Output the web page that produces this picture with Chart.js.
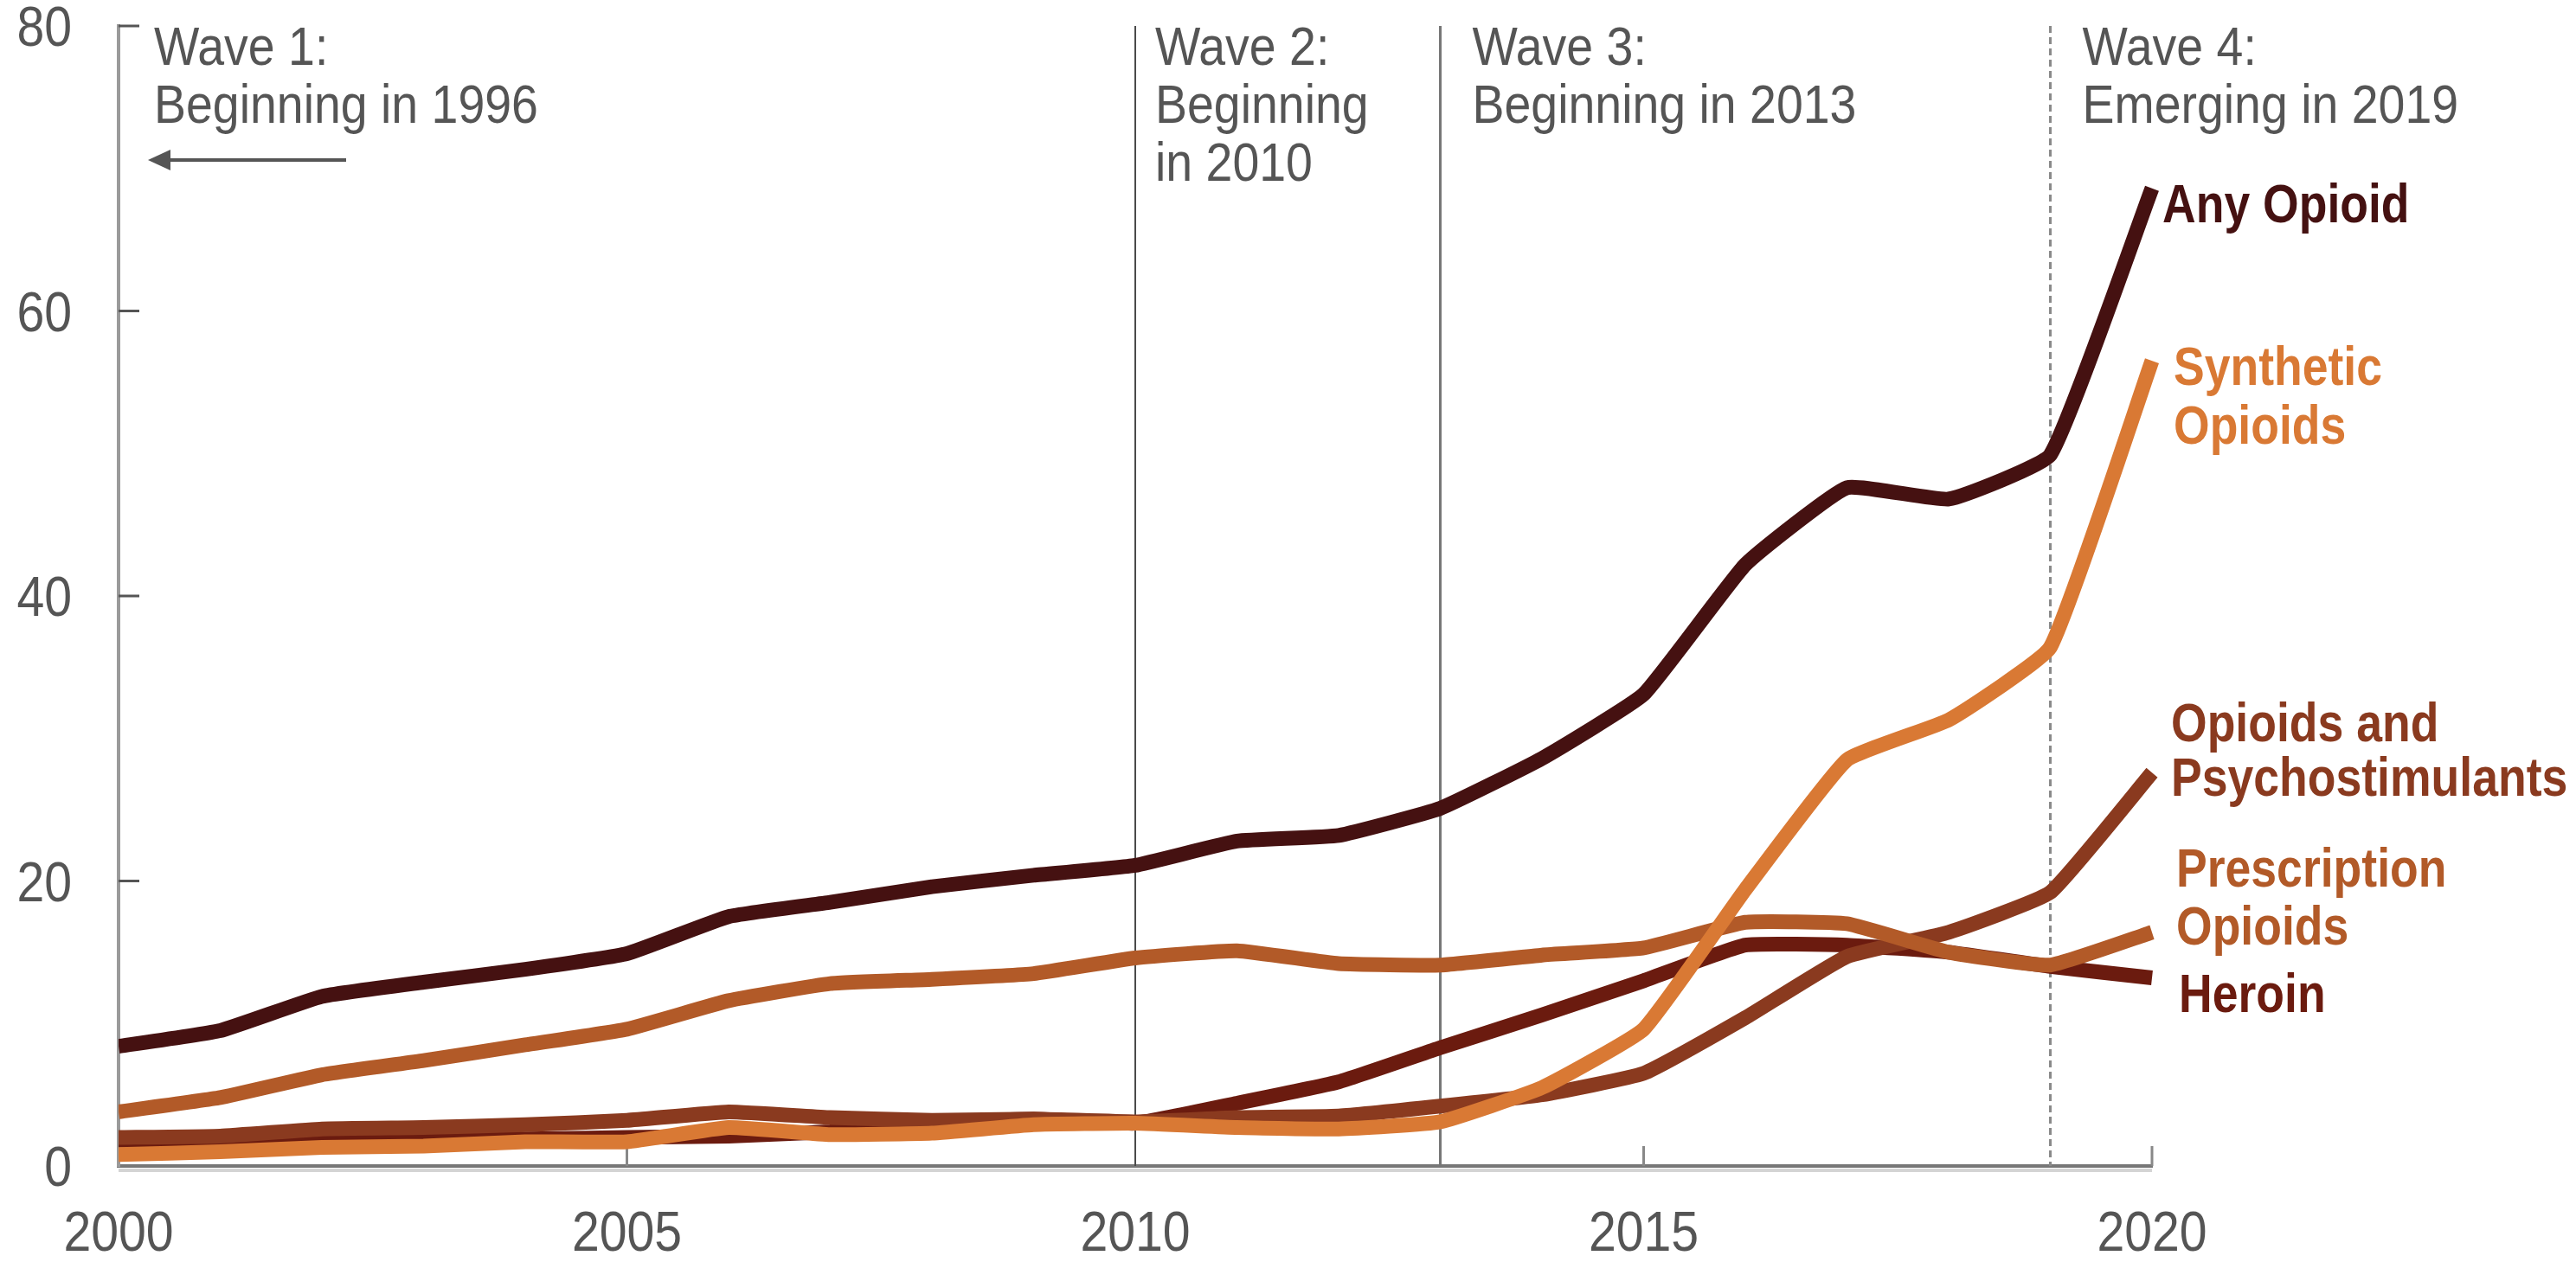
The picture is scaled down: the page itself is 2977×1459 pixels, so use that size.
<!DOCTYPE html>
<html>
<head>
<meta charset="utf-8">
<script src="https://cdn.jsdelivr.net/npm/chart.js@4.4.1/dist/chart.umd.min.js"></script>
<style>
  html, body { margin: 0; padding: 0; background: #fff; }
  #wrap { width: 2977px; height: 1459px; }
</style>
</head>
<body>
<div id="wrap"><canvas id="chart" width="2977" height="1459"></canvas></div>
<script>
// --------------------------
// data (thousands of deaths)
// --------------------------
const years = [2000, 2001, 2002, 2003, 2004, 2005, 2006, 2007, 2008, 2009, 2010,
               2011, 2012, 2013, 2014, 2015, 2016, 2017, 2018, 2019, 2020];
const anyOpioid     = [8.4, 9.5, 11.9, 12.9, 13.8, 14.9, 17.5, 18.5, 19.6, 20.4, 21.1,
                       22.8, 23.2, 25.1, 28.6, 33.1, 42.2, 47.6, 46.8, 49.9, 68.6];
const synthetic     = [0.8, 1.0, 1.3, 1.4, 1.7, 1.7, 2.7, 2.2, 2.3, 2.9, 3.0,
                       2.7, 2.6, 3.1, 5.5, 9.6, 19.4, 28.5, 31.3, 36.4, 56.5];
const prescription  = [3.8, 4.8, 6.4, 7.4, 8.5, 9.6, 11.6, 12.8, 13.1, 13.5, 14.6,
                       15.1, 14.2, 14.1, 14.8, 15.3, 17.1, 17.0, 15.0, 14.1, 16.4];
const psychostim    = [2.0, 2.1, 2.6, 2.7, 2.9, 3.2, 3.8, 3.4, 3.2, 3.3, 3.1,
                       3.4, 3.5, 4.2, 5.0, 6.5, 10.4, 14.7, 16.4, 19.2, 27.6];
const heroin        = [1.8, 1.8, 2.1, 2.1, 1.9, 2.0, 2.1, 2.4, 3.0, 3.3, 3.0,
                       4.4, 5.9, 8.3, 10.6, 13.0, 15.5, 15.5, 15.0, 14.0, 13.2];

const xTicks = [2000, 2005, 2010, 2015, 2020];
const yTicks = [0, 20, 40, 60, 80];

const waves = [
  { year: 2000, lines: ["Wave 1:", "Beginning in 1996"], arrow: true },
  { year: 2010, lines: ["Wave 2:", "Beginning", "in 2010"] },
  { year: 2013, lines: ["Wave 3:", "Beginning in 2013"] },
  { year: 2019, lines: ["Wave 4:", "Emerging in 2019"], dotted: true }
];

const seriesNames = [
  ["Any Opioid"],
  ["Synthetic", "Opioids"],
  ["Prescription", "Opioids"],
  ["Opioids and", "Psychostimulants"],
  ["Heroin"]
];

// --------------------------
// styles
// --------------------------
const COLORS = ["#451111", "#d97934", "#b25a28", "#8a3a1f", "#6b1b0f"];
const SANS = '"Liberation Sans", Arial, sans-serif';
const GREY = "#555555";
const SX_REG = 0.88;   // fake condensed
const SX_BOLD = 0.85;

// label placement (offset from plot right edge, baselines in px)
const labelPos = [
  { dx: 12, base: [257] },
  { dx: 25, base: [445, 513] },
  { dx: 28, base: [1025, 1092] },
  { dx: 22, base: [857, 920] },
  { dx: 31, base: [1170] }
];

function toPoints(vals) {
  return vals.map((v, i) => ({ x: years[i], y: v }));
}

function narrowText(ctx, text, x, y, sx, align) {
  ctx.save();
  ctx.translate(x, y);
  ctx.scale(sx, 1);
  ctx.textAlign = align || "left";
  ctx.fillText(text, 0, 0);
  ctx.restore();
}

// --------------------------
// overlay plugin
// --------------------------
const overlay = {
  id: "overlay",
  beforeDatasetsDraw(chart) {
    const { ctx, chartArea: a, scales: { x, y } } = chart;
    ctx.save();

    // wave lines
    waves.forEach(w => {
      if (w.year === 2000) return;
      const px = x.getPixelForValue(w.year);
      ctx.beginPath();
      ctx.strokeStyle = w.dotted ? "#8a8a8a" : (w.year === 2010 ? "#4a4a4a" : "#777");
      ctx.lineWidth = w.dotted ? 3 : (w.year === 2010 ? 2 : 3);
      ctx.setLineDash(w.dotted ? [8, 5] : []);
      ctx.moveTo(px, a.top);
      ctx.lineTo(px, a.bottom);
      ctx.stroke();
    });
    ctx.setLineDash([]);

    // small inward ticks
    ctx.strokeStyle = GREY;
    ctx.lineWidth = 3;
    yTicks.slice(1).forEach(v => {
      const py = y.getPixelForValue(v);
      ctx.beginPath();
      ctx.moveTo(a.left, py);
      ctx.lineTo(a.left + 24, py);
      ctx.stroke();
    });
    ctx.strokeStyle = "#888";
    [2005, 2015, 2020].forEach(v => {
      const px = x.getPixelForValue(v);
      ctx.beginPath();
      ctx.moveTo(px, a.bottom);
      ctx.lineTo(px, a.bottom - 23);
      ctx.stroke();
    });

    // light shadow under x axis
    ctx.strokeStyle = "#d4d4d4";
    ctx.lineWidth = 4;
    ctx.beginPath();
    ctx.moveTo(a.left, a.bottom + 5);
    ctx.lineTo(a.right, a.bottom + 5);
    ctx.stroke();
    ctx.restore();
  },
  afterDraw(chart) {
    const { ctx, chartArea: a, scales: { x, y } } = chart;
    ctx.save();
    ctx.textBaseline = "alphabetic";

    // tick labels
    ctx.fillStyle = GREY;
    ctx.font = "65px " + SANS;
    xTicks.forEach(v => narrowText(ctx, String(v), x.getPixelForValue(v), 1446, SX_REG, "center"));
    yTicks.forEach(v => narrowText(ctx, String(v), a.left - 54, y.getPixelForValue(v) + 23, SX_REG, "right"));

    // wave captions
    ctx.font = "63px " + SANS;
    waves.forEach(w => {
      const px = x.getPixelForValue(w.year);
      const tx = px + (w.year === 2000 ? 41 : w.year === 2010 ? 23 : 37);
      w.lines.forEach((t, i) => narrowText(ctx, t, tx, 75 + i * 67, SX_REG));
      if (w.arrow) {
        const ay = 185;
        ctx.strokeStyle = GREY;
        ctx.lineWidth = 4;
        ctx.beginPath();
        ctx.moveTo(px + 263, ay);
        ctx.lineTo(px + 50, ay);
        ctx.stroke();
        ctx.beginPath();
        ctx.moveTo(px + 34, ay);
        ctx.lineTo(px + 60, ay - 12);
        ctx.lineTo(px + 60, ay + 12);
        ctx.closePath();
        ctx.fill();
      }
    });

    // series labels
    ctx.font = "bold 63px " + SANS;
    seriesNames.forEach((lines, i) => {
      ctx.fillStyle = COLORS[i];
      const p = labelPos[i];
      lines.forEach((t, j) => narrowText(ctx, t, a.right + p.dx, p.base[j], SX_BOLD));
    });
    ctx.restore();
  }
};

// --------------------------
// chart
// --------------------------
const datasets = [anyOpioid, synthetic, prescription, psychostim, heroin].map((vals, i) => ({
  label: seriesNames[i].join(" "),
  data: toPoints(vals),
  borderColor: COLORS[i],
  borderWidth: 17,
  pointRadius: 0,
  tension: 0.12,
  borderJoinStyle: "round",
  borderCapStyle: "butt",
  fill: false,
  clip: { left: 0, top: 20, right: 10, bottom: 10 }
}));

new Chart(document.getElementById("chart"), {
  type: "line",
  data: { datasets },
  options: {
    responsive: false,
    animation: false,
    events: [],
    layout: { padding: { top: 30, right: 490, left: 0, bottom: 0 } },
    plugins: { legend: { display: false }, tooltip: { enabled: false } },
    scales: {
      x: {
        type: "linear",
        min: 2000,
        max: 2020,
        afterBuildTicks: s => { s.ticks = xTicks.map(v => ({ value: v })); },
        afterFit: s => { s.height = 111; },
        grid: { display: false, drawTicks: false },
        border: { display: true, color: "#777", width: 4 },
        ticks: { display: false }
      },
      y: {
        min: 0,
        max: 80,
        afterBuildTicks: s => { s.ticks = yTicks.map(v => ({ value: v })); },
        afterFit: s => { s.width = 137; },
        grid: { display: false, drawTicks: false },
        border: { display: true, color: "#9a9a9a", width: 4 },
        ticks: { display: false }
      }
    }
  },
  plugins: [overlay]
});
</script>
</body>
</html>
